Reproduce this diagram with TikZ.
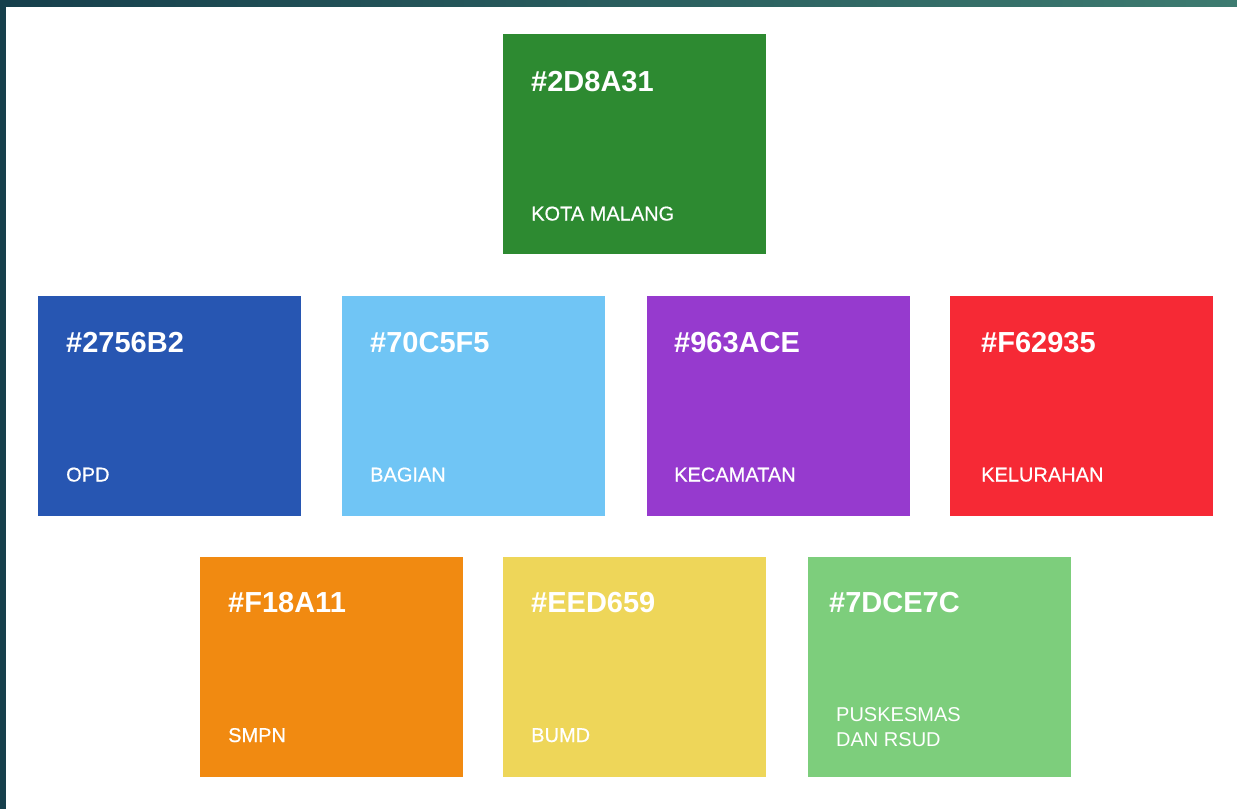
\documentclass[tikz,border=0pt]{standalone}
\usepackage{fontspec}
\setmainfont{Liberation Sans}
\newfontfamily\medfont[FakeBold=0.6]{Liberation Sans}
\definecolor{cKota}{HTML}{2D8A31}
\definecolor{cOpd}{HTML}{2756B2}
\definecolor{cBagian}{HTML}{70C5F5}
\definecolor{cKec}{HTML}{963ACE}
\definecolor{cKel}{HTML}{F62935}
\definecolor{cSmpn}{HTML}{F18A11}
\definecolor{cBumd}{HTML}{EED659}
\definecolor{cPusk}{HTML}{7DCE7C}
\definecolor{frameL}{HTML}{163F4C}
\definecolor{frameR}{HTML}{3D7B70}
\begin{document}
\begin{tikzpicture}[x=1pt,y=-1pt,
  swatch/.style={draw=none, fill=#1, minimum width=262.5pt, minimum height=219.5pt,
    anchor=north west, inner sep=0pt, outer sep=0pt},
  hexlabel/.style={text=white, font=\bfseries\fontsize{29}{34}\selectfont,
    anchor=base west, inner sep=0pt},
  namelabel/.style={text=white, font=\medfont\fontsize{20}{25}\selectfont,
    anchor=base west, inner sep=0pt},
  thinlabel/.style={text=white, font=\fontsize{20}{25}\selectfont,
    anchor=base west, inner sep=0pt}]
\useasboundingbox (0,0) rectangle (1237,809);
\fill[white] (0,0) rectangle (1237,809);
% frame
\shade[left color=frameL, right color=frameR] (0,0) rectangle (1237,6);
\fill[frameL] (0,0) rectangle (6,809);

% row 1
\node[swatch=cKota] (kota) at (503,34) {};
\node[hexlabel] (kotaHex) at (531,91.5) {\#2D8A31};
\node[namelabel] (kotaName) at (531,220.5) {KOTA MALANG};

% row 2
\node[swatch=cOpd] (opd) at (38,296) {};
\node[hexlabel] (opdHex) at (66,352) {\#2756B2};
\node[namelabel] (opdName) at (66,481.5) {OPD};

\node[swatch=cBagian] (bagian) at (342,296) {};
\node[hexlabel] (bagianHex) at (370,352) {\#70C5F5};
\node[namelabel] (bagianName) at (370,481.5) {BAGIAN};

\node[swatch=cKec] (kec) at (647,296) {};
\node[hexlabel] (kecHex) at (674,352) {\#963ACE};
\node[namelabel] (kecName) at (674,481.5) {KECAMATAN};

\node[swatch=cKel] (kel) at (950,296) {};
\node[hexlabel] (kelHex) at (981,352) {\#F62935};
\node[namelabel] (kelName) at (981,481.5) {KELURAHAN};

% row 3
\node[swatch=cSmpn] (smpn) at (200,557) {};
\node[hexlabel] (smpnHex) at (228,612.5) {\#F18A11};
\node[namelabel] (smpnName) at (228,742) {SMPN};

\node[swatch=cBumd] (bumd) at (503,557) {};
\node[hexlabel] (bumdHex) at (531,612.5) {\#EED659};
\node[namelabel] (bumdName) at (531,742) {BUMD};

\node[swatch=cPusk] (pusk) at (808,557) {};
\node[hexlabel] (puskHex) at (829,612.5) {\#7DCE7C};
\node[thinlabel] (puskNameA) at (836,721.5) {PUSKESMAS};
\node[thinlabel] (puskNameB) at (836,746.5) {DAN RSUD};
\end{tikzpicture}
\end{document}
